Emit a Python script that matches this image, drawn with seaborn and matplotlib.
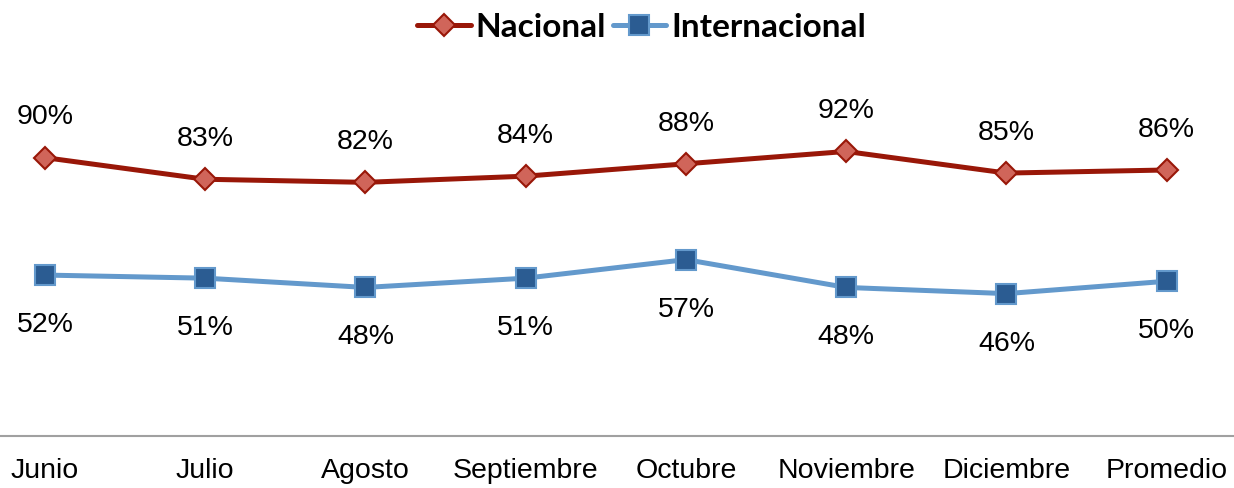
import pandas as pd
import seaborn as sns
import matplotlib.pyplot as plt

meses = ['Junio', 'Julio', 'Agosto', 'Septiembre', 'Octubre', 'Noviembre', 'Diciembre', 'Promedio']
nacional = [0.90, 0.83, 0.82, 0.84, 0.88, 0.92, 0.85, 0.86]
internacional = [0.52, 0.51, 0.48, 0.51, 0.57, 0.48, 0.46, 0.50]

df = pd.DataFrame({'Mes': meses, 'Nacional': nacional, 'Internacional': internacional})
df['x'] = range(len(meses))

sns.set_style('white')
plt.rcParams['font.family'] = ['Liberation Sans', 'DejaVu Sans']
plt.rcParams['text.color'] = 'black'
plt.rcParams['xtick.color'] = 'black'

fig = plt.figure(figsize=(12.34, 4.88), dpi=100)
ax = fig.add_axes([0, 0.107, 1, 0.76])

sns.lineplot(data=df, x='x', y='Nacional', ax=ax, color='#991708', linewidth=3.6,
             marker='D', markersize=11, markerfacecolor='#D0655A', markeredgecolor='#991708',
             markeredgewidth=1.5, label='Nacional', sort=False)
sns.lineplot(data=df, x='x', y='Internacional', ax=ax, color='#6399CC', linewidth=3.6,
             marker='s', markersize=14, markerfacecolor='#2B5C92', markeredgecolor='#6399CC',
             markeredgewidth=1.5, label='Internacional', sort=False)

for i, (n, t) in enumerate(zip(nacional, internacional)):
    ax.annotate(f'{n:.0%}', (i, n), xytext=(0, 29), textcoords='offset points',
                ha='center', va='center', fontsize=20.5)
    ax.annotate(f'{t:.0%}', (i, t), xytext=(0, -36), textcoords='offset points',
                ha='center', va='center', fontsize=20.5)

ax.set_xlim(-0.28, 7.42)
ax.set_ylim(0, 1.2)
ax.set_xticks(df['x'])
ax.set_xticklabels(meses, fontsize=20.5)
ax.set_yticks([])
ax.set_xlabel('')
ax.set_ylabel('')
ax.tick_params(axis='x', length=0, pad=16)
for s in ['left', 'top', 'right']:
    ax.spines[s].set_visible(False)
ax.spines['bottom'].set_color('#A0A0A0')
ax.spines['bottom'].set_linewidth(1.5)

ax.get_legend().remove()
h, l = ax.get_legend_handles_labels()
fig.legend(h, l, loc='upper center', bbox_to_anchor=(0.52, 1.035), ncol=2, frameon=False,
           prop={'family': 'Lato', 'weight': 'bold', 'size': 24},
           handlelength=1.6, handletextpad=0.15, columnspacing=0.2)

fig.savefig('out.png', dpi=100)
